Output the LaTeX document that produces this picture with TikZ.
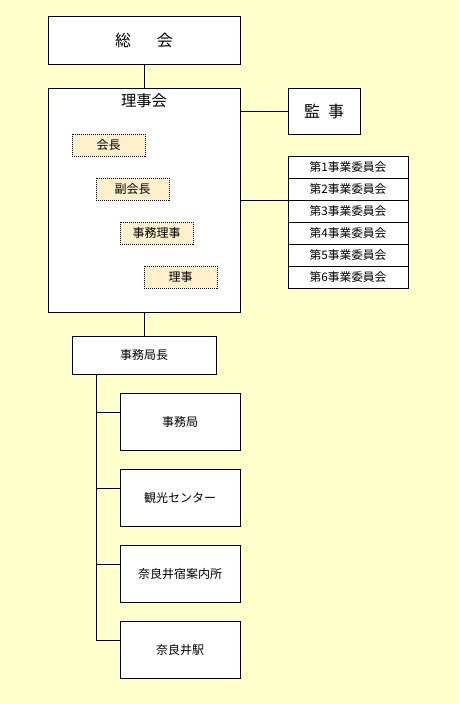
\documentclass[tikz,border=0pt]{standalone}
\usepackage{fontspec}
\setmainfont{Noto Sans CJK JP}
\begin{document}
\begin{tikzpicture}[x=0.75pt,y=-0.75pt,
  box/.style={draw=black,line width=0.75pt,fill=white,inner sep=0pt,outer sep=0pt},
  officer/.style={draw=black,dash pattern=on 0.75pt off 0.75pt,line width=0.75pt,fill=officerfill,inner sep=0pt,outer sep=0pt,
    minimum width=54.75pt,minimum height=16.5pt,font=\fontsize{9}{10}\selectfont},
  cmte/.style={draw=black,line width=0.75pt,fill=white,inner sep=0pt,outer sep=0pt,
    minimum width=90pt,minimum height=16.5pt,font=\fontsize{8.8}{10}\selectfont},
  link/.style={draw=black,line width=0.75pt}]
\definecolor{bgyellow}{HTML}{FFFFCC}
\definecolor{officerfill}{HTML}{FFF0CC}
\fill[bgyellow] (0,0) rectangle (458,704);
\useasboundingbox (0,0) rectangle (458,704);

% 総会
\node[box,minimum width=144pt,minimum height=36pt,font=\fontsize{12}{14}\selectfont] (sokai) at (144,40) {総\hspace{1.6em}会};
% 理事会
\node[box,minimum width=144pt,minimum height=168pt] (rijikai) at (144,200) {};
\node[inner sep=0pt,font=\fontsize{11.5}{14}\selectfont] (rijikaiT) at (144,101) {理事会};
% 監事
\node[box,minimum width=54pt,minimum height=34.5pt,font=\fontsize{12}{14}\selectfont] (kanji) at (324,111) {監\hspace{0.5em}事};

% officers
\node[officer] (kaicho) at (108.5,145) {会長};
\node[officer] (fukukaicho) at (132.5,189) {副会長};
\node[officer] (jimuriji) at (156.5,233) {事務理事};
\node[officer] (riji) at (180.5,277) {理事};

% committees
\node[cmte] (c1) at (348,167) {第1事業委員会};
\node[cmte] (c2) at (348,189) {第2事業委員会};
\node[cmte] (c3) at (348,211) {第3事業委員会};
\node[cmte] (c4) at (348,233) {第4事業委員会};
\node[cmte] (c5) at (348,255) {第5事業委員会};
\node[cmte] (c6) at (348,277) {第6事業委員会};

% 事務局長
\node[box,minimum width=108pt,minimum height=28.5pt,font=\fontsize{9}{10}\selectfont] (kyokucho) at (144,355) {事務局長};

% sub offices
\node[box,minimum width=90pt,minimum height=42.75pt,font=\fontsize{9}{10}\selectfont] (jimukyoku) at (180,421.8) {事務局};
\node[box,minimum width=90pt,minimum height=42.75pt,font=\fontsize{9}{10}\selectfont] (kanko) at (180,497.8) {観光センター};
\node[box,minimum width=90pt,minimum height=42.75pt,font=\fontsize{9}{10}\selectfont] (annaijo) at (180,573.8) {奈良井宿案内所};
\node[box,minimum width=90pt,minimum height=42.75pt,font=\fontsize{9}{10}\selectfont] (eki) at (180,649.8) {奈良井駅};

% connectors
\draw[link] (sokai.south) -- (rijikai.north);
\draw[link] (rijikai.east |- kanji.west) -- (kanji.west);
\draw[link] (rijikai.east |- c2.south west) -- (c2.south west);
\draw[link] (rijikai.south) -- (kyokucho.north);
\coordinate (trunk) at (96,374);
\coordinate (b1) at (96,412.3);
\coordinate (b2) at (96,488.3);
\coordinate (b3) at (96,564.3);
\coordinate (b4) at (96,640.3);
\draw[link] (trunk) -- (b4);
\draw[link] (b1) -- (b1 -| jimukyoku.west);
\draw[link] (b2) -- (b2 -| kanko.west);
\draw[link] (b3) -- (b3 -| annaijo.west);
\draw[link] (b4) -- (b4 -| eki.west);
\end{tikzpicture}
\end{document}
